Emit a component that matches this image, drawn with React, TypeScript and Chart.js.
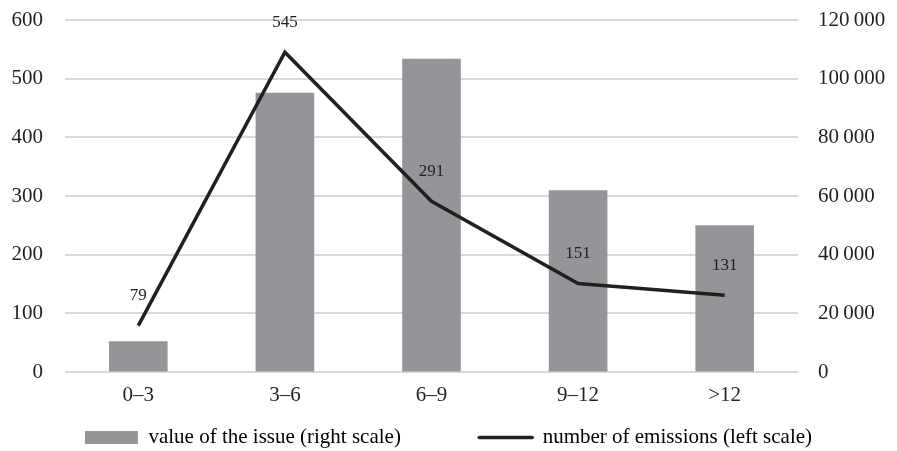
import React, { useEffect, useRef } from 'react';
import { Chart, registerables } from 'chart.js';

Chart.register(...registerables);

const categories = ['0–3', '3–6', '6–9', '9–12', '>12'];
const issueValue = [10500, 95200, 106800, 62000, 50000];
const emissions = [79, 545, 291, 151, 131];
const seriesNames = ['value of the issue (right scale)', 'number of emissions (left scale)'];

const barColor = '#939598';
const lineColor = '#231f20';
const textColor = '#231f20';
const gridColor = '#d9d9d9';
const fontFamily = '"Liberation Serif", "Times New Roman", serif';

const fmtThousands = (v: number) => String(v).replace(/\B(?=(\d{3})+(?!\d))/g, '\u2009');

const valueLabels = {
  id: 'valueLabels',
  afterDatasetsDraw(chart: any) {
    const ctx = chart.ctx;
    const meta = chart.getDatasetMeta(0);
    ctx.save();
    ctx.font = `17px ${fontFamily}`;
    ctx.fillStyle = textColor;
    ctx.textAlign = 'center';
    ctx.textBaseline = 'middle';
    meta.data.forEach((pt: any, i: number) => {
      ctx.fillText(String(chart.data.datasets[0].data[i]), pt.x, pt.y - 30);
    });
    ctx.restore();
  },
};

export default function App() {
  const ref = useRef<HTMLCanvasElement | null>(null);
  useEffect(() => {
    document.body.style.margin = '0';
    if (!ref.current) return;
    const chart = new Chart(ref.current, {
      type: 'bar',
      data: {
        labels: categories,
        datasets: [
          {
            type: 'line',
            label: seriesNames[1],
            data: emissions,
            yAxisID: 'yLeft',
            borderColor: lineColor,
            borderWidth: 3.5,
            pointRadius: 0,
            tension: 0,
            fill: false,
            order: 0,
          } as any,
          {
            type: 'bar',
            label: seriesNames[0],
            data: issueValue,
            yAxisID: 'yRight',
            backgroundColor: barColor,
            barPercentage: 0.4,
            categoryPercentage: 1,
            order: 1,
          },
        ],
      },
      options: {
        responsive: false,
        animation: false,
        layout: { padding: { top: 20, bottom: -7, left: 0, right: 0 } },
        plugins: {
          tooltip: { enabled: false },
          legend: {
            position: 'bottom',
            labels: {
              usePointStyle: true,
              pointStyleWidth: 53,
              boxHeight: 13,
              padding: 10,
              color: textColor,
              font: { family: fontFamily, size: 21 },
              generateLabels: () => [
                {
                  text: seriesNames[0] + '\u2003\u2003\u2003 ',
                  fillStyle: barColor,
                  strokeStyle: barColor,
                  lineWidth: 0,
                  pointStyle: 'rect',
                  datasetIndex: 1,
                  hidden: false,
                } as any,
                {
                  text: seriesNames[1],
                  fillStyle: lineColor,
                  strokeStyle: lineColor,
                  lineWidth: 3.5,
                  lineCap: 'round',
                  pointStyle: 'line',
                  datasetIndex: 0,
                  hidden: false,
                } as any,
              ],
            },
          },
        },
        scales: {
          x: {
            offset: true,
            grid: { display: false },
            border: { display: false },
            ticks: { color: textColor, font: { family: fontFamily, size: 21 }, padding: 3 },
            afterFit: (s: any) => { s.height = 45; },
          },
          yLeft: {
            position: 'left',
            min: 0,
            max: 600,
            ticks: { stepSize: 100, color: textColor, font: { family: fontFamily, size: 21 }, padding: 0 },
            grid: { color: gridColor, lineWidth: 2, drawTicks: true, tickLength: 22, tickColor: 'rgba(0,0,0,0)' },
            border: { display: false },
            afterFit: (s: any) => { s.width = 65; },
          },
          yRight: {
            position: 'right',
            min: 0,
            max: 120000,
            ticks: {
              stepSize: 20000,
              color: textColor,
              font: { family: fontFamily, size: 21 },
              padding: 0,
              callback: (v: any) => fmtThousands(Number(v)),
            },
            grid: { display: true, color: 'rgba(0,0,0,0)', drawOnChartArea: false, drawTicks: true, tickLength: 20, tickColor: 'rgba(0,0,0,0)' },
            border: { display: false },
            afterFit: (s: any) => { s.width = 99; },
          },
        },
      },
      plugins: [valueLabels],
    });
    return () => chart.destroy();
  }, []);
  return (
    <div style={{ width: 897, height: 451 }}>
      <canvas ref={ref} width={897} height={451} />
    </div>
  );
}
